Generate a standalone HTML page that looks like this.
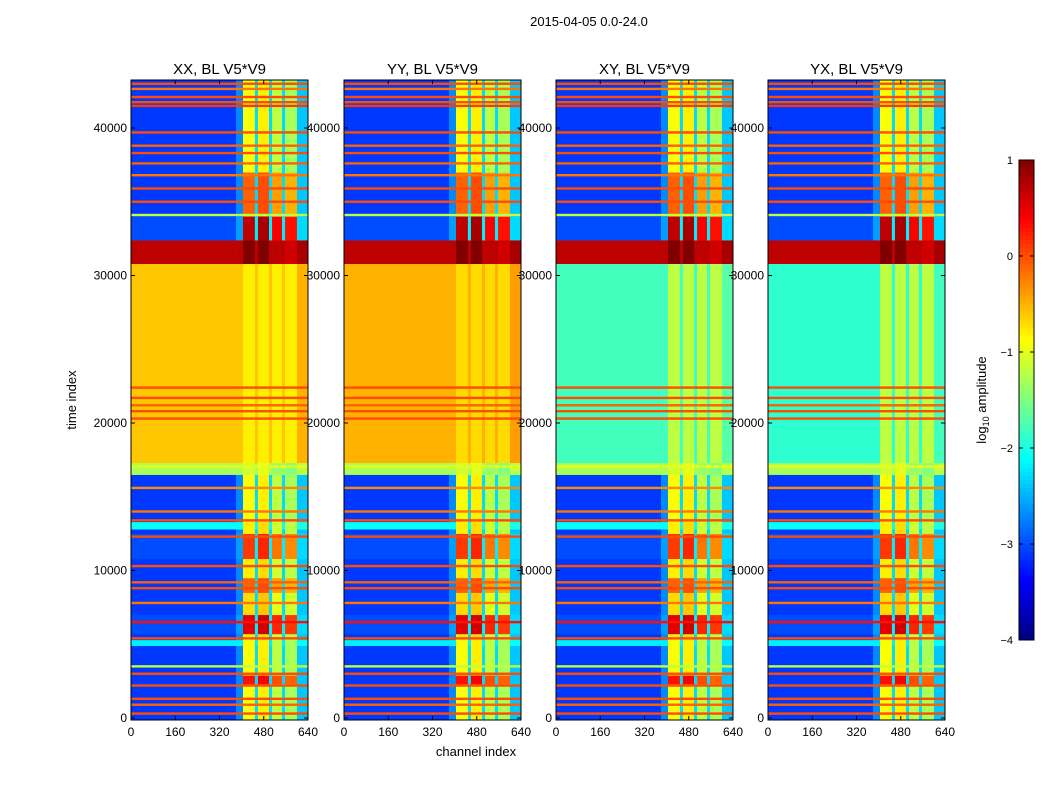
<!DOCTYPE html>
<html><head><meta charset="utf-8">
<style>
html,body{margin:0;padding:0;background:#fff;}
svg text{font-family:"Liberation Sans",sans-serif;}
</style></head>
<body>
<svg id="fig" width="1050" height="800" viewBox="0 0 1050 800" xmlns="http://www.w3.org/2000/svg">
<rect width="1050" height="800" fill="#fff"/>
<text x="589" y="26" font-size="13" text-anchor="middle">2015-04-05 0.0-24.0</text>
<text x="76" y="400" font-size="13" text-anchor="middle" transform="rotate(-90 76 400)">time index</text>
<text x="476" y="756" font-size="13" text-anchor="middle">channel index</text>
<text x="986" y="400" font-size="13" text-anchor="middle" transform="rotate(-90 986 400)">log<tspan font-size="9" dy="3">10</tspan><tspan dy="-3"> amplitude</tspan></text>
<g id="panels"></g>
<g id="cbar"></g>
</svg>
<script>
const panelNames = ['XX, BL V5*V9','YY, BL V5*V9','XY, BL V5*V9','YX, BL V5*V9'];
const xTicks = [0,160,320,480,640];
const yTicks = [0,10000,20000,30000,40000];
const cbTicks = [1,0,-1,-2,-3,-4];
// time bands: start, end, background level, rfi-column level
const bandStart = [-200, 2300, 2900, 4900, 5300, 5700, 7000, 8500, 9500, 10800, 12500, 12800, 13300, 16500, 17300, 30800, 32400, 34000, 37000];
const bandEnd   = [2300, 2900, 4900, 5300, 5700, 7000, 8500, 9500, 10800, 12500, 12800, 13300, 16500, 17300, 30800, 32400, 34000, 37000, 43300];
const bandBg    = [-3.1, -3.1, -3.1, -2.2, -3.1, -3.0, -3.1, -3.1, -3.1, -3.0, -3.1, -2.1, -3.1, -1.3, 'mid', 0.7, -3.0, -3.1, -3.1];
const bandRfi   = [-1.0, 0.2, -1.0, -1.0, -0.9, 0.4, -0.8, -0.2, -0.9, 0.0, -0.9, -0.9, -1.0, -1.2, 'mid', 0.9, 0.6, -0.2, -1.0];
const midBg = [-0.6, -0.5, -1.8, -1.9];
const midRfi = [-0.8, -0.7, -1.2, -1.2];
// channel segments
const chanEdges = [0, 380, 405, 448, 459, 499, 510, 546, 557, 600, 640];
const chanKind  = ['bg','rise','rfi','gap','rfi','gap','rfi','gap','rfi','edge'];
const rfiOffset = [0, 0, 0.1, 0, 0.2, 0, -0.2, 0, -0.3, 0];
// horizontal RFI lines: time, level
const lineTime  = [43000, 42650, 42100, 41750, 41500, 39700, 38800, 38300, 37600, 36800, 35900, 35000, 34100, 22400, 21700, 21200, 20800, 20300, 17050, 15600, 14000, 13400, 12300, 10300, 9200, 8800, 7800, 6500, 5400, 3500, 3000, 2200, 1300, 900, 300];
const lineLevel = [0.0, -0.2, 0.0, 0.0, 0.1, 0.0, -0.1, 0.0, -0.1, -0.2, 0.0, 0.0, -1.2, 0.0, 0.0, -0.1, 0.0, 0.0, -1.0, -0.3, -0.2, 0.0, 0.0, 0.0, -0.1, 0.0, -0.2, 0.3, 0.0, -1.2, 0.0, 0.0, 0.0, -0.1, 0.0];

const panelX = [131, 344, 556, 768], PW = 177, PT = 80, PB = 720;
const NS = 'http://www.w3.org/2000/svg';
function jet(v){
  let t = (v + 4) / 5; t = Math.max(0, Math.min(1, t));
  const r = Math.max(0, Math.min(1, 1.5 - Math.abs(4*t - 3)));
  const g = Math.max(0, Math.min(1, 1.5 - Math.abs(4*t - 2)));
  const b = Math.max(0, Math.min(1, 1.5 - Math.abs(4*t - 1)));
  return `rgb(${Math.round(r*255)},${Math.round(g*255)},${Math.round(b*255)})`;
}
function yOf(t){ return 718 - t * 0.01475; }
function mk(tag, attrs, parent){ const e = document.createElementNS(NS, tag); for (const k in attrs) e.setAttribute(k, attrs[k]); parent.appendChild(e); return e; }

const root = document.getElementById('panels');
panelNames.forEach((name, p) => {
  const x0 = panelX[p];
  const xOf = c => x0 + c / 640 * PW;
  const g = mk('g', {}, root);
  
  
  const clipId = 'clip' + p;
  const cp = mk('clipPath', {id: clipId}, g);
  mk('rect', {x: x0, y: PT, width: PW, height: PB - PT}, cp);
  const hm = mk('g', {'clip-path': `url(#${clipId})`}, g);
  
  
  for (let i = 0; i < bandStart.length; i++) {
    const bg = bandBg[i] === 'mid' ? midBg[p] : bandBg[i];
    const rf = bandRfi[i] === 'mid' ? midRfi[p] : bandRfi[i];
    const y1 = yOf(bandEnd[i]), y2 = yOf(bandStart[i]);
    for (let j = 0; j < chanKind.length; j++) {
      let v = bg;
      const k = chanKind[j];
      if (k === 'rfi') v = rf + (bandBg[i] === 'mid' ? 0 : rfiOffset[j]);
      else if (k === 'gap') v = bg < -2.5 ? bg + 0.8 : bg;
      else if (k === 'rise') v = bg < -2.5 ? bg + 0.4 : bg;
      else if (k === 'edge') v = bg < -2.5 ? bg + 0.7 : bg + 0.1;
      const r = mk('rect', {x: xOf(chanEdges[j]), y: y1, width: xOf(chanEdges[j+1]) - xOf(chanEdges[j]) + 0.3, height: y2 - y1 + 0.3, fill: jet(v)}, hm);
      
      
    }
  }
  lineTime.forEach((t, i) => {
    const r = mk('rect', {x: x0, y: yOf(t) - 1.2, width: PW, height: 2.4, fill: jet(lineLevel[i])}, hm);
    
    
  });
  mk('rect', {x: x0, y: PT, width: PW, height: PB - PT, fill: 'none', stroke: '#000', 'stroke-width': 1}, g);
  const tt = mk('text', {x: x0 + PW/2, y: 74, 'font-size': 15, 'text-anchor': 'middle'}, g);
  tt.textContent = name;
  
  
  xTicks.forEach(c => {
    const x = xOf(c);
    mk('line', {x1: x, x2: x, y1: PB, y2: PB - 4, stroke: '#000'}, g);
    mk('line', {x1: x, x2: x, y1: PT, y2: PT + 4, stroke: '#000'}, g);
    const t = mk('text', {x: x, y: 736, 'font-size': 12, 'text-anchor': 'middle'}, g);
    t.textContent = c;
    
    
  });
  yTicks.forEach(v => {
    const y = yOf(v);
    mk('line', {x1: x0, x2: x0 + 4, y1: y, y2: y, stroke: '#000'}, g);
    mk('line', {x1: x0 + PW, x2: x0 + PW - 4, y1: y, y2: y, stroke: '#000'}, g);
    const t = mk('text', {x: x0 - 4, y: y + 4, 'font-size': 12, 'text-anchor': 'end'}, g);
    t.textContent = v;
    
    
  });
});

// colorbar
const cb = document.getElementById('cbar');


const cbX = 1019, cbW = 15, cbTop = 160, cbBot = 640;
for (let i = 0; i < 120; i++) {
  const v = 1 - (i + 0.5) / 120 * 5;
  mk('rect', {x: cbX, y: cbTop + i * 4, width: cbW, height: 4.3, fill: jet(v)}, cb);
}
mk('rect', {x: cbX, y: cbTop, width: cbW, height: cbBot - cbTop, fill: 'none', stroke: '#000'}, cb);
cbTicks.forEach(v => {
  const y = cbTop + (1 - v) / 5 * (cbBot - cbTop);
  mk('line', {x1: cbX, x2: cbX + 4, y1: y, y2: y, stroke: '#000'}, cb);
  mk('line', {x1: cbX + cbW, x2: cbX + cbW - 4, y1: y, y2: y, stroke: '#000'}, cb);
  const t = mk('text', {x: 1013, y: y + 4, 'font-size': 11, 'text-anchor': 'end'}, cb);
  t.textContent = v < 0 ? '\u2212' + Math.abs(v) : v;
  
  
});
</script>
</body></html>
